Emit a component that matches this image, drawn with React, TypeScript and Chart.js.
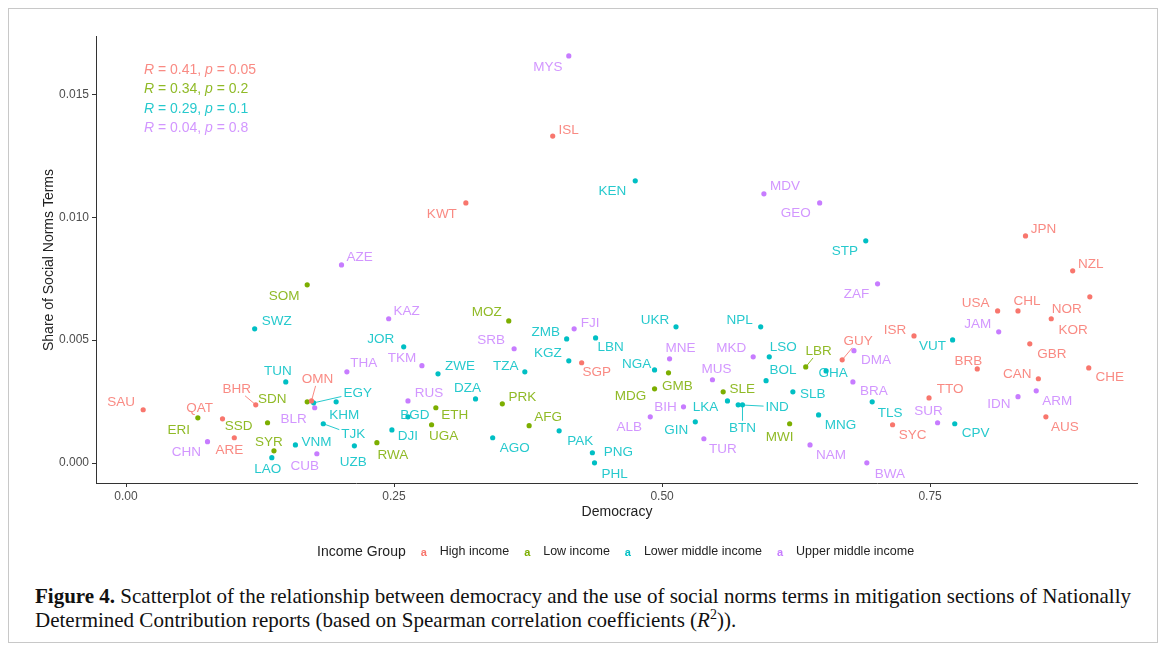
import React, { useEffect, useRef } from "react";
import { Chart, registerables } from "chart.js";
Chart.register(...registerables);

const groupNames = ["High income", "Low income", "Lower middle income", "Upper middle income"];
const groupColors = ["#F8766D", "#7CAE00", "#00BFC4", "#C77CFF"];
const labelColors = ["rgba(248,118,109,0.85)", "rgba(124,174,0,0.85)", "rgba(0,191,196,0.85)", "rgba(199,124,255,0.8)"];

// High income
const highCodes = ["SAU", "QAT", "ARE", "BHR", "OMN", "KWT", "ISL", "SGP", "GUY", "ISR", "TTO", "SYC", "BRB", "USA", "CHL", "JPN", "GBR", "CAN", "AUS", "KOR", "NZL", "NOR", "CHE"];
const highDemocracy = [0.016, 0.090, 0.101, 0.121, 0.173, 0.317, 0.398, 0.425, 0.668, 0.735, 0.749, 0.715, 0.794, 0.813, 0.832, 0.839, 0.843, 0.851, 0.858, 0.863, 0.883, 0.899, 0.898];
const highShare = [0.00217, 0.0018, 0.00103, 0.00237, 0.00253, 0.01058, 0.0133, 0.00408, 0.0042, 0.00517, 0.00265, 0.00156, 0.00383, 0.00619, 0.00619, 0.00924, 0.00485, 0.00343, 0.00188, 0.00587, 0.00782, 0.00676, 0.00387];

// Low income
const lowCodes = ["ERI", "SSD", "SYR", "SDN", "SOM", "RWA", "UGA", "ETH", "PRK", "MOZ", "AFG", "MDG", "GMB", "SLE", "MWI", "LBR"];
const lowDemocracy = [0.067, 0.132, 0.138, 0.169, 0.169, 0.234, 0.285, 0.289, 0.351, 0.357, 0.376, 0.493, 0.506, 0.557, 0.619, 0.634];
const lowShare = [0.00184, 0.00164, 0.0005, 0.00249, 0.00725, 0.00083, 0.00156, 0.00225, 0.00241, 0.00578, 0.00152, 0.00302, 0.00367, 0.0029, 0.0016, 0.00391];

// Lower middle income
const lowerMidCodes = ["SWZ", "LAO", "TUN", "VNM", "EGY", "TJK", "KHM", "UZB", "DJI", "JOR", "BGD", "ZWE", "DZA", "AGO", "TZA", "PAK", "ZMB", "KGZ", "PNG", "PHL", "LBN", "KEN", "NGA", "UKR", "GIN", "LKA", "IND", "BTN", "NPL", "BOL", "LSO", "SLB", "MNG", "GHA", "STP", "TLS", "VUT", "CPV"];
const lowerMidDemocracy = [0.120, 0.136, 0.149, 0.158, 0.175, 0.184, 0.196, 0.213, 0.248, 0.259, 0.263, 0.291, 0.326, 0.342, 0.372, 0.404, 0.411, 0.413, 0.435, 0.437, 0.438, 0.475, 0.493, 0.513, 0.531, 0.561, 0.571, 0.575, 0.592, 0.597, 0.600, 0.622, 0.646, 0.653, 0.690, 0.696, 0.771, 0.773];
const lowerMidShare = [0.00546, 0.00022, 0.0033, 0.00074, 0.00245, 0.0016, 0.00249, 0.0007, 0.00135, 0.00473, 0.00188, 0.00363, 0.00261, 0.00103, 0.00371, 0.00131, 0.00505, 0.00416, 0.00042, 0.00001, 0.00509, 0.01148, 0.00379, 0.00554, 0.00168, 0.00253, 0.00237, 0.00237, 0.00554, 0.00335, 0.00432, 0.0029, 0.00196, 0.00375, 0.00904, 0.00249, 0.00501, 0.0016];

// Upper middle income
const upperMidCodes = ["CHN", "AZE", "BLR", "CUB", "THA", "KAZ", "RUS", "TKM", "SRB", "MYS", "FJI", "ALB", "MNE", "BIH", "TUR", "MUS", "MKD", "MDV", "NAM", "GEO", "BRA", "DMA", "BWA", "ZAF", "SUR", "JAM", "IDN", "ARM"];
const upperMidDemocracy = [0.076, 0.201, 0.176, 0.178, 0.206, 0.245, 0.263, 0.276, 0.362, 0.413, 0.418, 0.489, 0.507, 0.520, 0.539, 0.547, 0.585, 0.595, 0.638, 0.647, 0.678, 0.679, 0.691, 0.701, 0.757, 0.814, 0.832, 0.849];
const upperMidShare = [0.00087, 0.00806, 0.00225, 0.00038, 0.00371, 0.00587, 0.00253, 0.00396, 0.00465, 0.01656, 0.00546, 0.00188, 0.00424, 0.00229, 0.00099, 0.00339, 0.00432, 0.01095, 0.00074, 0.01058, 0.0033, 0.00457, 0.00001, 0.00729, 0.00164, 0.00534, 0.0027, 0.00294];

const groupCodes = [highCodes, lowCodes, lowerMidCodes, upperMidCodes];
const groupDemocracy = [highDemocracy, lowDemocracy, lowerMidDemocracy, upperMidDemocracy];
const groupShare = [highShare, lowShare, lowerMidShare, upperMidShare];

const xTicks = [0, 0.25, 0.5, 0.75];
const xTickLabels = ["0.00", "0.25", "0.50", "0.75"];
const yTicks = [0, 0.005, 0.01, 0.015];
const yTickLabels = ["0.000", "0.005", "0.010", "0.015"];

const statR = ["0.41", "0.34", "0.29", "0.04"];
const statP = ["0.05", "0.2", "0.1", "0.8"];

// label placement (pixel offset of label centre from its point)
const labelOffsets: Record<string, [number, number]> = {
  SAU: [-22, -7], QAT: [-23, -11], ARE: [-5, 13], BHR: [-19, -16], OMN: [6, -22], KWT: [-24, 11], ISL: [16, -6], SGP: [15, 10],
  GUY: [16, -19], ISR: [-19, -6], TTO: [21, -9], SYC: [20, 11], BRB: [-9, -8], USA: [-22, -8], CHL: [9, -10], JPN: [18, -7],
  GBR: [22, 10], CAN: [-21, -4], AUS: [19, 10], KOR: [22, 12], NZL: [18, -7], NOR: [-23, 12], CHE: [21, 9],
  ERI: [-19, 12], SSD: [-29, 4], SYR: [-5, -9], SDN: [-35, -3], SOM: [-23, 11], RWA: [16, 13], UGA: [12, 12], ETH: [19, 8],
  PRK: [20, -7], MOZ: [-22, -9], AFG: [19, -8], MDG: [-24, 7], GMB: [9, 13], SLE: [19, -2], MWI: [-10, 14], LBR: [13, -16],
  SWZ: [22, -8], LAO: [-4, 12], TUN: [-8, -11], VNM: [21, -3], EGY: [44, -10], TJK: [30, 11], KHM: [8, 13], UZB: [-1, 16],
  DJI: [16, 6], JOR: [-23, -8], BGD: [7, -2], ZWE: [22, -8], DZA: [-8, -11], AGO: [22, 11], TZA: [-19, -6], PAK: [21, 10],
  ZMB: [-21, -7], KGZ: [-21, -8], PNG: [26, 0], PHL: [20, 11], LBN: [15, 9], KEN: [-23, 10], NGA: [-18, -6], UKR: [-21, -7],
  GIN: [-19, 9], LKA: [-22, 6], IND: [39, 2], BTN: [0, 23], NPL: [-21, -7], BOL: [17, -10], LSO: [14, -10], SLB: [20, 3],
  MNG: [22, 10], GHA: [7, 2], STP: [-21, 10], TLS: [18, 11], VUT: [-20, 6], CPV: [21, 10],
  CHN: [-21, 11], AZE: [18, -8], BLR: [-21, 12], CUB: [-12, 13], THA: [17, -9], KAZ: [18, -7], RUS: [21, -8], TKM: [-20, -7],
  SRB: [-23, -8], MYS: [-21, 11], FJI: [16, -6], ALB: [-21, 10], MNE: [11, -11], BIH: [-18, 1], TUR: [19, 11], MUS: [4, -10],
  MKD: [-22, -9], MDV: [21, -8], NAM: [21, 10], GEO: [-24, 10], BRA: [21, 9], DMA: [22, 10], BWA: [23, 11], ZAF: [-21, 10],
  SUR: [-9, -11], JAM: [-21, -8], IDN: [-19, 8], ARM: [21, 10],
};
const leaderCodes = ["BHR", "OMN", "GUY", "LBR", "EGY", "TJK", "IND", "BTN"];

const SANS = "'Liberation Sans', Arial, Helvetica, sans-serif";

const labelPlugin = {
  id: "countryLabels",
  afterDatasetsDraw(chart: any) {
    const ctx = chart.ctx as CanvasRenderingContext2D;
    ctx.save();
    ctx.font = `13.5px ${SANS}`;
    ctx.textAlign = "center";
    ctx.textBaseline = "middle";
    chart.data.datasets.forEach((_ds: any, di: number) => {
      const meta = chart.getDatasetMeta(di);
      const codes = groupCodes[di];
      meta.data.forEach((el: any, i: number) => {
        const code = codes[i];
        const off = labelOffsets[code] || [16, -8];
        const lx = el.x + off[0];
        const ly = el.y + off[1];
        if (leaderCodes.includes(code)) {
          const w = ctx.measureText(code).width / 2 + 2;
          const h = 7;
          const dx = lx - el.x;
          const dy = ly - el.y;
          const t = Math.min(dx !== 0 ? w / Math.abs(dx) : 1e9, dy !== 0 ? h / Math.abs(dy) : 1e9);
          const ex = lx - dx * t;
          const ey = ly - dy * t;
          ctx.strokeStyle = labelColors[di];
          ctx.lineWidth = 1;
          ctx.beginPath();
          ctx.moveTo(el.x, el.y);
          ctx.lineTo(ex, ey);
          ctx.stroke();
        }
        ctx.fillStyle = labelColors[di];
        ctx.fillText(code, lx, ly);
      });
    });
    ctx.restore();
  },
  afterDraw(chart: any) {
    const ctx = chart.ctx as CanvasRenderingContext2D;
    ctx.save();
    // stats text
    ctx.textBaseline = "middle";
    ctx.textAlign = "left";
    const statY = [70, 89.5, 109, 128.5];
    for (let g = 0; g < 4; g++) {
      let x = 144;
      const y = statY[g];
      ctx.fillStyle = labelColors[g];
      const parts: [string, boolean][] = [["R", true], [` = ${statR[g]}, `, false], ["p", true], [` = ${statP[g]}`, false]];
      for (const [txt, it] of parts) {
        ctx.font = `${it ? "italic " : ""}14px ${SANS}`;
        ctx.fillText(txt, x, y);
        x += ctx.measureText(txt).width;
      }
    }
    // axis titles
    ctx.fillStyle = "#222";
    ctx.font = `14px ${SANS}`;
    ctx.textAlign = "center";
    ctx.fillText("Democracy", 617, 512);
    ctx.save();
    ctx.translate(49, 260);
    ctx.rotate(-Math.PI / 2);
    ctx.fillText("Share of Social Norms Terms", 0, 0);
    ctx.restore();
    // legend
    const ly = 552;
    ctx.textAlign = "left";
    ctx.font = `14px ${SANS}`;
    ctx.fillStyle = "#222";
    let x = 317;
    ctx.fillText("Income Group", x, ly);
    x += ctx.measureText("Income Group").width;
    for (let g = 0; g < 4; g++) {
      const kc = x + 18;
      ctx.font = `bold 11px ${SANS}`;
      ctx.fillStyle = groupColors[g];
      ctx.textAlign = "center";
      ctx.fillText("a", kc, ly + 1);
      ctx.textAlign = "left";
      ctx.font = `12.5px ${SANS}`;
      ctx.fillStyle = "#222";
      const start = kc + 16;
      ctx.fillText(groupNames[g], start, ly);
      x = start + ctx.measureText(groupNames[g]).width;
    }
    ctx.restore();
  },
};

export default function App() {
  const ref = useRef<HTMLCanvasElement | null>(null);
  useEffect(() => {
    if (!ref.current) return;
    const datasets = groupNames.map((name, g) => ({
      label: name,
      data: groupDemocracy[g].map((d, i) => ({ x: d, y: groupShare[g][i] })),
      backgroundColor: groupColors[g],
      borderColor: groupColors[g],
      pointRadius: 2.6,
      pointBorderWidth: 0,
    }));
    const chart = new Chart(ref.current, {
      type: "scatter",
      data: { datasets },
      plugins: [labelPlugin],
      options: {
        animation: false,
        responsive: false,
        maintainAspectRatio: false,
        layout: { padding: { left: 0, right: 30, top: 36, bottom: 0 } },
        plugins: { legend: { display: false }, tooltip: { enabled: false } },
        scales: {
          x: {
            type: "linear",
            min: -0.028,
            max: 0.943,
            afterBuildTicks: (s: any) => { s.ticks = xTicks.map((v) => ({ value: v })); },
            afterFit: (s: any) => { s.height = 97; },
            ticks: {
              callback: (v: any) => { const i = xTicks.indexOf(Number(v)); return i >= 0 ? xTickLabels[i] : ""; },
              color: "#4D4D4D",
              font: { family: SANS, size: 12 },
              padding: 2,
              maxRotation: 0,
            },
            grid: { display: true, drawOnChartArea: false, drawTicks: true, tickLength: 4, color: "#333" },
            border: { display: true, color: "#333", width: 1 },
          },
          y: {
            type: "linear",
            min: -0.00081,
            max: 0.01737,
            afterBuildTicks: (s: any) => { s.ticks = yTicks.map((v) => ({ value: v })); },
            afterFit: (s: any) => { s.width = 96; },
            ticks: {
              callback: (v: any) => { const i = yTicks.findIndex((t) => Math.abs(t - Number(v)) < 1e-9); return i >= 0 ? yTickLabels[i] : ""; },
              color: "#4D4D4D",
              font: { family: SANS, size: 12 },
              padding: 3,
            },
            grid: { display: true, drawOnChartArea: false, drawTicks: true, tickLength: 4, color: "#333" },
            border: { display: true, color: "#333", width: 1 },
          },
        },
      },
    });
    return () => chart.destroy();
  }, []);

  return (
    <div style={{ position: "absolute", left: 0, top: 0, width: 1167, height: 652, background: "#fff" }}>
      <div style={{ position: "absolute", left: 8, top: 8, width: 1150, height: 635, border: "1px solid #c8c8c8", boxSizing: "border-box" }} />
      <canvas ref={ref} width={1167} height={580} style={{ position: "absolute", left: 0, top: 0, width: 1167, height: 580 }} />
      <div
        style={{
          position: "absolute",
          left: 35,
          top: 584,
          width: 1125,
          fontFamily: "'Liberation Serif', 'Times New Roman', serif",
          fontSize: 21,
          lineHeight: "24px",
          color: "#111",
          whiteSpace: "nowrap",
        }}
      >
        <b>Figure 4.</b> Scatterplot of the relationship between democracy and the use of social norms terms in mitigation sections of Nationally
        <br />
        Determined Contribution reports (based on Spearman correlation coefficients (<i>R</i>
        <sup style={{ fontSize: 14, lineHeight: 0 }}>2</sup>)).
      </div>
    </div>
  );
}
